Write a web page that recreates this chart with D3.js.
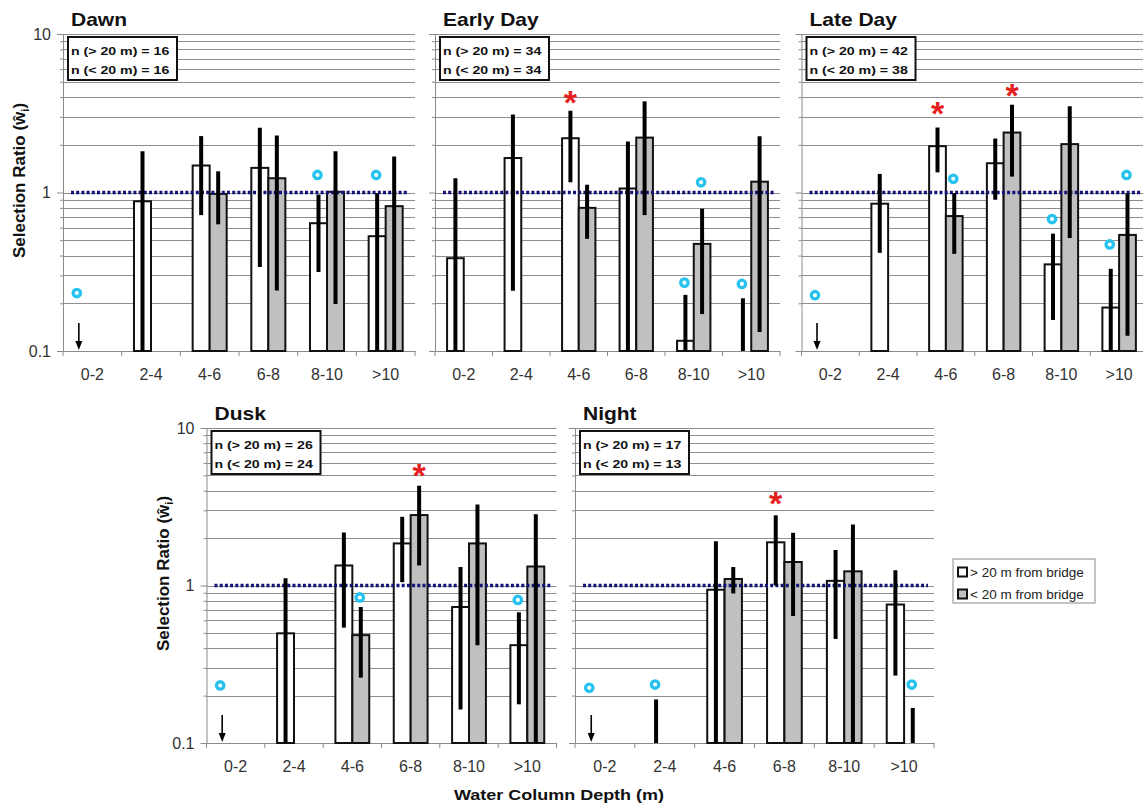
<!DOCTYPE html>
<html>
<head>
<meta charset="utf-8">
<script src="https://cdn.jsdelivr.net/npm/d3@7"></script>
<style>
  body { margin: 0; background: #fff; }
  svg { display: block; font-family: "Liberation Sans", Arial, sans-serif; }
</style>
</head>
<body>
<svg id="chart" width="1143" height="809"></svg>
<script>
// ---- data ----
const categories = ["0-2", "2-4", "4-6", "6-8", "8-10", ">10"];
const panelNames = ["Dawn", "Early Day", "Late Day", "Dusk", "Night"];
const nFar = [16, 34, 42, 26, 17];
const nNear = [16, 34, 38, 24, 13];

// selection ratio, > 20 m from bridge (null = no bar)
const farValue = [
  [null, 0.88, 1.48, 1.43, 0.64, 0.53],
  [0.385, 1.65, 2.2, 1.06, 0.116, null],
  [null, 0.85, 1.96, 1.53, 0.352, 0.188],
  [null, 0.497, 1.34, 1.85, 0.73, 0.418],
  [null, null, 0.94, 1.88, 1.07, 0.757]
];
const farLow = [
  [null, 0.1, 0.72, 0.339, 0.315, 0.1],
  [0.1, 0.24, 1.16, 0.1, 0.1, 0.1],
  [null, 0.416, 1.34, 0.9, 0.157, 0.1],
  [null, 0.1, 0.54, 1.05, 0.163, 0.176],
  [null, 0.1, 0.1, 1.0, 0.458, 0.268]
];
const farHigh = [
  [null, 1.82, 2.27, 2.56, 0.97, 0.99],
  [1.23, 3.1, 3.28, 2.1, 0.226, 0.215],
  [null, 1.31, 2.57, 2.19, 0.55, 0.33],
  [null, 1.11, 2.17, 2.73, 1.31, 0.676],
  [null, 0.189, 1.91, 2.79, 1.68, 1.25]
];

// selection ratio, < 20 m from bridge
const nearValue = [
  [null, null, 0.98, 1.23, 1.01, 0.82],
  [null, null, 0.8, 2.22, 0.474, 1.17],
  [null, null, 0.71, 2.39, 2.02, 0.54],
  [null, null, 0.484, 2.8, 1.85, 1.32],
  [null, null, 1.1, 1.41, 1.23, null]
];
const nearLow = [
  [null, null, 0.63, 0.241, 0.198, 0.1],
  [null, null, 0.51, 0.72, 0.171, 0.132],
  [null, null, 0.41, 1.26, 0.517, 0.125],
  [null, null, 0.26, 1.34, 0.418, 0.1],
  [null, null, 0.89, 0.64, 0.1, 0.1]
];
const nearHigh = [
  [null, null, 1.36, 2.29, 1.82, 1.69],
  [null, null, 1.12, 3.76, 0.79, 2.26],
  [null, null, 0.99, 3.58, 3.5, 0.99],
  [null, null, 0.73, 4.3, 3.27, 2.83],
  [null, null, 1.31, 2.16, 2.44, 0.167]
];

// cyan ring markers: [panel, category, group, value]
const rings = [
  [0, "0-2", "far", 0.232], [0, "8-10", "far", 1.29], [0, ">10", "far", 1.29],
  [1, "8-10", "far", 0.27], [1, "8-10", "near", 1.16], [1, ">10", "far", 0.265],
  [2, "0-2", "far", 0.225], [2, "4-6", "near", 1.22], [2, "8-10", "far", 0.68],
  [2, ">10", "far", 0.47], [2, ">10", "near", 1.29],
  [3, "0-2", "far", 0.232], [3, "4-6", "near", 0.84], [3, ">10", "far", 0.81],
  [4, "0-2", "far", 0.224], [4, "2-4", "far", 0.235], [4, ">10", "near", 0.235]
];
// red asterisks: [panel, category, group, value]
const stars = [
  [1, "4-6", "far", 4.14],
  [2, "4-6", "far", 3.5], [2, "6-8", "near", 4.58],
  [3, "6-8", "near", 5.55],
  [4, "6-8", "far", 3.7]
];
// zero-use arrows: [panel, category]
const arrows = [[0, "0-2"], [2, "0-2"], [3, "0-2"], [4, "0-2"]];

// ---- layout ----
const frames = [
  { x0: 63, x1: 415, yTop: 34, yBot: 351, yLabels: true },
  { x0: 435, x1: 780, yTop: 34, yBot: 351, yLabels: false },
  { x0: 801.5, x1: 1148, yTop: 34, yBot: 351, yLabels: false },
  { x0: 206.5, x1: 556.5, yTop: 428, yBot: 743, yLabels: true },
  { x0: 575, x1: 934, yTop: 428, yBot: 743, yLabels: false }
];

const GRID = "#8e8e8e", AXIS = "#8a8a8a", GRAY_FILL = "#c0c0c0";
const RING = "#27c3ee", STAR = "#e62020", REF = "#141478";
const BOLD_SX = 1.2;

const svg = d3.select("#chart");
const gridValues = d3.range(0.2, 1.0, 0.1).concat(d3.range(1, 10.5, 1)).map(v => +v.toFixed(1));

function boldText(g, x, y, txt, size, anchor) {
  return g.append("text")
    .attr("transform", `translate(${x},${y}) scale(${BOLD_SX},1)`)
    .attr("text-anchor", anchor || "start")
    .attr("font-weight", "bold")
    .attr("font-size", size)
    .attr("fill", "#111")
    .text(txt);
}

frames.forEach((f, p) => {
  const g = svg.append("g");

  const x = d3.scaleBand().domain(categories).range([f.x0, f.x1]).padding(0);
  const y = d3.scaleLog().domain([0.1, 10]).range([f.yBot, f.yTop]);
  const bw = x.bandwidth();
  const barW = bw * 0.29;
  const center = (cat, grp) => x(cat) + bw / 2 + (grp === "far" ? -barW / 2 : barW / 2);
  const hasArrow = cat => arrows.some(a => a[0] === p && a[1] === cat);

  // gridlines
  g.selectAll(".grid").data(gridValues).enter().append("line")
    .attr("x1", f.x0).attr("x2", f.x1)
    .attr("y1", d => Math.round(y(d)) + 0.5).attr("y2", d => Math.round(y(d)) + 0.5)
    .attr("stroke", GRID).attr("stroke-width", 1);

  // y axis
  const yAxis = d3.axisLeft(y)
    .tickValues([0.1].concat(gridValues))
    .tickSize(4)
    .tickFormat(d => (f.yLabels && (d === 0.1 || d === 1 || d === 10)) ? (d === 0.1 ? "0.1" : String(d)) : "");
  const ya = g.append("g").attr("transform", `translate(${f.x0},0)`).call(yAxis);
  ya.select(".domain").attr("stroke", AXIS);
  ya.selectAll(".tick line").attr("stroke", AXIS)
    .attr("x2", d => (d === 0.1 || d === 1 || d === 10) ? -6 : -3);
  ya.selectAll(".tick text").attr("x", -12).attr("font-size", 16)
    .attr("fill", "#333").attr("font-family", "Liberation Sans, Arial, sans-serif");

  // x axis
  const xa = g.append("g").attr("transform", `translate(0,${f.yBot})`)
    .call(d3.axisBottom(x).tickSize(0).tickPadding(0));
  xa.select(".domain").attr("stroke", AXIS);
  xa.selectAll(".tick text").attr("y", 29).attr("dy", 0).attr("font-size", 16)
    .attr("fill", "#333").attr("font-family", "Liberation Sans, Arial, sans-serif");
  g.selectAll(".xtick").data(d3.range(categories.length + 1)).enter().append("line")
    .attr("x1", i => f.x0 + i * bw).attr("x2", i => f.x0 + i * bw)
    .attr("y1", f.yBot).attr("y2", f.yBot + 5)
    .attr("stroke", AXIS);

  // n box
  const bx = f.x0 + 5, by = f.yTop + 3;
  g.append("rect").attr("x", bx).attr("y", by).attr("width", 109).attr("height", 43)
    .attr("fill", "#fff").attr("stroke", "#111").attr("stroke-width", 2);
  boldText(g, bx + 3, by + 17.5, `n (> 20 m) = ${nFar[p]}`, 11.8);
  boldText(g, bx + 3, by + 36.5, `n (< 20 m) = ${nNear[p]}`, 11.8);

  // panel title
  boldText(g, f.x0 + 8, f.yTop - 8, panelNames[p], 17.5);

  // bars
  const bars = [];
  categories.forEach((c, i) => {
    if (farValue[p][i] != null) bars.push({ c, grp: "far", v: farValue[p][i] });
    if (nearValue[p][i] != null) bars.push({ c, grp: "near", v: nearValue[p][i] });
  });
  g.selectAll(".bar").data(bars).enter().append("rect")
    .attr("x", d => center(d.c, d.grp) - barW / 2)
    .attr("y", d => y(d.v))
    .attr("width", barW)
    .attr("height", d => f.yBot - y(d.v))
    .attr("fill", d => d.grp === "far" ? "#fff" : GRAY_FILL)
    .attr("stroke", "#111").attr("stroke-width", 2);

  // reference line at 1
  g.append("line")
    .attr("x1", f.x0 + 8).attr("x2", f.x1 - 6)
    .attr("y1", y(1)).attr("y2", y(1))
    .attr("stroke", REF).attr("stroke-width", 3.5)
    .attr("stroke-dasharray", "3,2.2");

  // error bars
  const errs = [];
  categories.forEach((c, i) => {
    if (farHigh[p][i] != null) errs.push({ c, grp: "far", lo: farLow[p][i], hi: farHigh[p][i] });
    if (nearHigh[p][i] != null) errs.push({ c, grp: "near", lo: nearLow[p][i], hi: nearHigh[p][i] });
  });
  g.selectAll(".err").data(errs).enter().append("line")
    .attr("x1", d => center(d.c, d.grp)).attr("x2", d => center(d.c, d.grp))
    .attr("y1", d => y(d.lo)).attr("y2", d => y(d.hi))
    .attr("stroke", "#000").attr("stroke-width", 4);

  // arrows (no use)
  arrows.filter(a => a[0] === p).forEach(a => {
    const ax = center(a[1], "far") - 5;
    g.append("line").attr("x1", ax).attr("x2", ax)
      .attr("y1", f.yBot - 28).attr("y2", f.yBot - 8)
      .attr("stroke", "#000").attr("stroke-width", 1.6);
    g.append("path")
      .attr("d", `M${ax - 3.5},${f.yBot - 10}L${ax + 3.5},${f.yBot - 10}L${ax},${f.yBot - 1}Z`)
      .attr("fill", "#000");
  });

  // rings
  g.selectAll(".ring").data(rings.filter(r => r[0] === p)).enter().append("circle")
    .attr("cx", d => center(d[1], d[2]) - (hasArrow(d[1]) ? 7 : 1))
    .attr("cy", d => y(d[3]))
    .attr("r", 3.7)
    .attr("fill", "#fff")
    .attr("stroke", RING).attr("stroke-width", 3.3);

  // stars
  g.selectAll(".star").data(stars.filter(s => s[0] === p)).enter().append("text")
    .attr("x", d => center(d[1], d[2]))
    .attr("y", d => y(d[3]) + 19)
    .attr("text-anchor", "middle")
    .attr("font-size", 34).attr("font-weight", "bold")
    .attr("fill", STAR)
    .text("*");

  // y-axis title
  if (f.yLabels) {
    const mid = (f.yTop + f.yBot) / 2 - 12;
    const t = svg.append("text")
      .attr("transform", `translate(${f.x0 - 38},${mid}) rotate(-90)`)
      .attr("text-anchor", "middle")
      .attr("font-weight", "bold").attr("font-size", 17).attr("fill", "#111");
    t.append("tspan").text("Selection Ratio (ŵ");
    t.append("tspan").attr("font-size", 11).attr("dy", 4).text("i");
    t.append("tspan").attr("dy", -4).text(")");
  }
});

// x-axis title
boldText(svg, 559, 800, "Water Column Depth (m)", 15, "middle");

// legend
const legendItems = [
  { label: "> 20 m from bridge", fill: "#fff" },
  { label: "< 20 m from bridge", fill: GRAY_FILL }
];
const lg = svg.append("g").attr("transform", "translate(953,559)");
lg.append("rect").attr("width", 142).attr("height", 44)
  .attr("fill", "#fff").attr("stroke", "#888").attr("stroke-width", 1);
legendItems.forEach((d, i) => {
  lg.append("rect").attr("x", 5).attr("y", 8.5 + i * 22).attr("width", 9).attr("height", 9)
    .attr("fill", d.fill).attr("stroke", "#111").attr("stroke-width", 2);
  lg.append("text").attr("x", 17).attr("y", 18 + i * 22)
    .attr("font-size", 13.5).attr("fill", "#222").text(d.label);
});
</script>
</body>
</html>
